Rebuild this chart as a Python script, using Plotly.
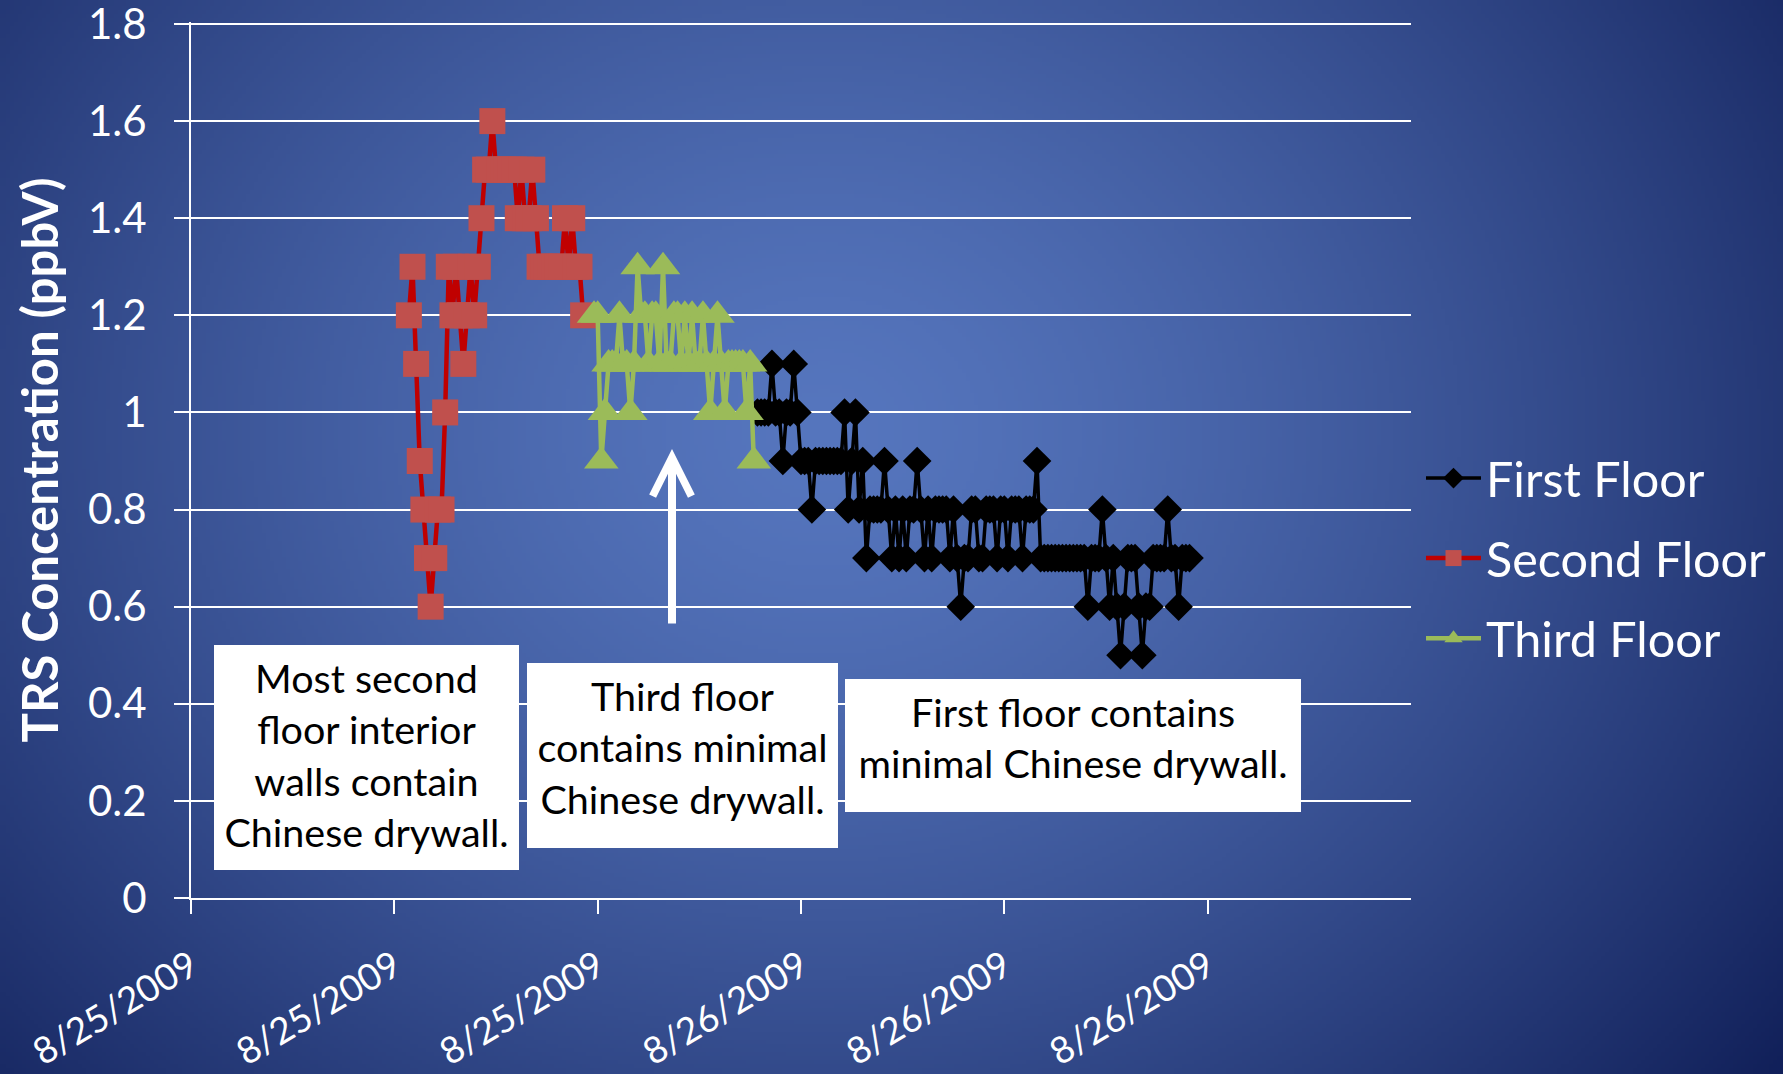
import base64
import struct
import zlib

import numpy as np
import plotly.graph_objects as go

# ---------------------------------------------------------------- data
# Readings are indexed by sample number along the category axis.
tick_samples = [0, 56, 112, 168, 224, 280]
tick_labels = ["8/25/2009", "8/25/2009", "8/25/2009",
               "8/26/2009", "8/26/2009", "8/26/2009"]
axis_samples = 336

y_ticks = [0, 0.2, 0.4, 0.6, 0.8, 1.0, 1.2, 1.4, 1.6, 1.8]
y_tick_labels = ["0", "0.2", "0.4", "0.6", "0.8", "1", "1.2", "1.4", "1.6", "1.8"]

second_floor_start = 60
second_floor = [
    1.2, 1.3, 1.1, 0.9, 0.8, 0.7, 0.6, 0.7, 0.8, 0.8,
    1.0, 1.3, 1.2, 1.3, 1.2, 1.1, 1.2, 1.3, 1.2, 1.3,
    1.4, 1.5, 1.5, 1.6, 1.5, 1.5, 1.5, 1.5, 1.5, 1.5,
    1.4, 1.5, 1.4, 1.4, 1.5, 1.4, 1.3, 1.3, 1.3, 1.3,
    1.3, 1.3, 1.3, 1.4, 1.3, 1.4, 1.3, 1.3, 1.2,
]

third_floor_start = 111
third_floor = [
    1.2, 1.2, 0.9, 1.0, 1.1, 1.1, 1.1, 1.2, 1.1, 1.1,
    1.0, 1.1, 1.3, 1.2, 1.2, 1.1, 1.2, 1.2, 1.1, 1.3,
    1.1, 1.1, 1.2, 1.2, 1.1, 1.2, 1.1, 1.2, 1.1, 1.1,
    1.2, 1.1, 1.0, 1.1, 1.2, 1.1, 1.0, 1.1, 1.1, 1.1,
    1.1, 1.1, 1.0, 1.1, 0.9,
]

first_floor_start = 156
first_floor = [
    1.0, 1.0, 1.0, 1.0, 1.1, 1.0, 1.0, 0.9, 1.0, 1.0,
    1.1, 1.0, 0.9, 0.9, 0.9, 0.8, 0.9, 0.9, 0.9, 0.9,
    0.9, 0.9, 0.9, 0.9, 1.0, 0.8, 0.9, 1.0, 0.8, 0.9,
    0.7, 0.8, 0.8, 0.8, 0.8, 0.9, 0.8, 0.7, 0.8, 0.7,
    0.8, 0.7, 0.8, 0.8, 0.9, 0.8, 0.7, 0.8, 0.7, 0.8,
    0.8, 0.8, 0.8, 0.7, 0.8, 0.7, 0.6, 0.7, 0.7, 0.8,
    0.8, 0.7, 0.7, 0.8, 0.8, 0.8, 0.7, 0.8, 0.8, 0.7,
    0.8, 0.8, 0.8, 0.7, 0.8, 0.8, 0.8, 0.9, 0.7, 0.7,
    0.7, 0.7, 0.7, 0.7, 0.7, 0.7, 0.7, 0.7, 0.7, 0.7,
    0.7, 0.6, 0.7, 0.7, 0.7, 0.8, 0.7, 0.6, 0.7, 0.6,
    0.5, 0.6, 0.7, 0.7, 0.7, 0.6, 0.5, 0.6, 0.6, 0.7,
    0.7, 0.7, 0.7, 0.8, 0.7, 0.7, 0.6, 0.7, 0.7, 0.7,
]

notes = [
    "Most second<br>floor interior<br>walls contain<br>Chinese drywall.",
    "Third floor<br>contains minimal<br>Chinese drywall.",
    "First floor contains<br>minimal Chinese drywall.",
]

# ---------------------------------------------------------------- layout geometry
W, H = 1783, 1074
ML, MR, MT, MB = 191, 372, 22, 176
PW, PH = W - ML - MR, H - MT - MB
Y_TOP = 1.8041          # leaves the 1.8 grid line two pixels inside the plot
FONT = "Lato"


def px_to_paper(px, py):
    return (px - ML) / PW, (H - MB - py) / PH


# ---------------------------------------------------------------- slide background
def radial_background(w, h):
    yy, xx = np.mgrid[0:h, 0:w].astype(float)
    sx, sy = W / w, H / h
    cx, cy, rx, ry = 820, 430, 1050, 900
    d = np.sqrt(((xx * sx - cx) / rx) ** 2 + ((yy * sy - cy) / ry) ** 2)
    t = np.clip(d, 0, 1.15) ** 1.4
    inner = np.array([86, 118, 190], float)
    outer = np.array([30, 48, 108], float)
    img = inner[None, None, :] * (1 - t[..., None]) + outer[None, None, :] * t[..., None]
    return np.clip(img, 0, 255).astype(np.uint8)


def png_uri(rgb):
    h, w, _ = rgb.shape
    raw = b"".join(b"\x00" + rgb[r].tobytes() for r in range(h))

    def chunk(tag, data):
        c = struct.pack(">I", len(data)) + tag + data
        return c + struct.pack(">I", zlib.crc32(tag + data) & 0xFFFFFFFF)

    png = b"\x89PNG\r\n\x1a\n"
    png += chunk(b"IHDR", struct.pack(">IIBBBBB", w, h, 8, 2, 0, 0, 0))
    png += chunk(b"IDAT", zlib.compress(raw, 9))
    png += chunk(b"IEND", b"")
    return "data:image/png;base64," + base64.b64encode(png).decode()


bg = png_uri(radial_background(446, 269))

# ---------------------------------------------------------------- traces
fig = go.Figure()

fig.add_trace(go.Scatter(
    x=list(range(first_floor_start, first_floor_start + len(first_floor))),
    y=first_floor, name="First Floor", mode="lines+markers", legendgroup="a",
    line=dict(color="#000000", width=3.5),
    marker=dict(symbol="diamond", size=22, color="#000000"),
))
fig.add_trace(go.Scatter(
    x=list(range(second_floor_start, second_floor_start + len(second_floor))),
    y=second_floor, name="Second Floor", mode="lines+markers", legendgroup="b",
    line=dict(color="#c00000", width=4.5),
    marker=dict(symbol="square", size=26, color="#c0504d"),
))
fig.add_trace(go.Scatter(
    x=list(range(third_floor_start, third_floor_start + len(third_floor))),
    y=third_floor, name="Third Floor", mode="lines+markers", legendgroup="c",
    line=dict(color="#9bbb59", width=4.5),
    marker=dict(symbol="triangle-up", size=30, color="#9bbb59"),
))

# ---------------------------------------------------------------- text boxes and arrow
boxes = [  # (left, top, right, bottom) in pixels
    (214, 645, 519, 870),
    (527, 663, 838, 848),
    (845, 679, 1301, 812),
]
PAD = 9
annotations = []
for text, (x0, y0, x1, y1) in zip(notes, boxes):
    ax_, ay_ = px_to_paper((x0 + x1) / 2, (y0 + y1) / 2)
    annotations.append(dict(
        text=text, xref="paper", yref="paper", x=ax_, y=ay_,
        xanchor="center", yanchor="middle", showarrow=False,
        width=x1 - x0 - 2 * PAD, height=y1 - y0 - 2 * PAD,
        align="center", valign="top",
        bgcolor="#ffffff", borderpad=PAD, borderwidth=0,
        font=dict(family=FONT, size=39.5, color="#000000"),
    ))

tip_x, tip_y = px_to_paper(672, 449)
annotations.append(dict(
    text="", xref="paper", yref="paper", x=tip_x, y=tip_y,
    ax=0, ay=176, showarrow=True, arrowhead=5, arrowsize=0.95,
    arrowwidth=8, arrowcolor="#ffffff", standoff=0,
))

fig.update_layout(
    width=W, height=H,
    margin=dict(l=ML, r=MR, t=MT, b=MB, autoexpand=False),
    paper_bgcolor="#2c4283",
    plot_bgcolor="rgba(0,0,0,0)",
    font=dict(family=FONT, color="#ffffff"),
    showlegend=True,
    legend=dict(
        x=(1421 - ML) / PW, y=px_to_paper(0, 440)[1],
        xanchor="left", yanchor="top",
        font=dict(family=FONT, size=48.5, color="#ffffff"),
        bgcolor="rgba(0,0,0,0)", itemwidth=55, tracegroupgap=14,
    ),
    images=[dict(
        source=bg, xref="paper", yref="paper",
        x=-ML / PW, y=1 + MT / PH, sizex=W / PW, sizey=H / PH,
        xanchor="left", yanchor="top", sizing="stretch", layer="below",
    )],
    annotations=annotations,
)

fig.update_xaxes(
    range=[0, axis_samples], tickvals=tick_samples, ticktext=tick_labels,
    tickangle=-31, showgrid=False, zeroline=False,
    showline=True, linecolor="#ffffff", linewidth=2,
    ticks="outside", ticklen=14, tickwidth=2, tickcolor="#ffffff",
    tickfont=dict(family=FONT, size=37, color="#ffffff"),
    ticklabelstandoff=16, ticklabeloverflow="allow",
)
fig.update_yaxes(
    range=[0, Y_TOP], tickvals=y_ticks, ticktext=y_tick_labels,
    showgrid=True, gridcolor="#ffffff", gridwidth=2, zeroline=False,
    showline=True, linecolor="#ffffff", linewidth=2,
    ticks="outside", ticklen=15, tickwidth=2, tickcolor="#ffffff",
    tickfont=dict(family=FONT, size=42, color="#ffffff"),
    ticklabelstandoff=19, ticklabeloverflow="allow",
    title=dict(text="<b>TRS Concentration (ppbV)</b>", standoff=14,
               font=dict(family=FONT, size=49, color="#ffffff")),
)

fig.write_html("out.html")
